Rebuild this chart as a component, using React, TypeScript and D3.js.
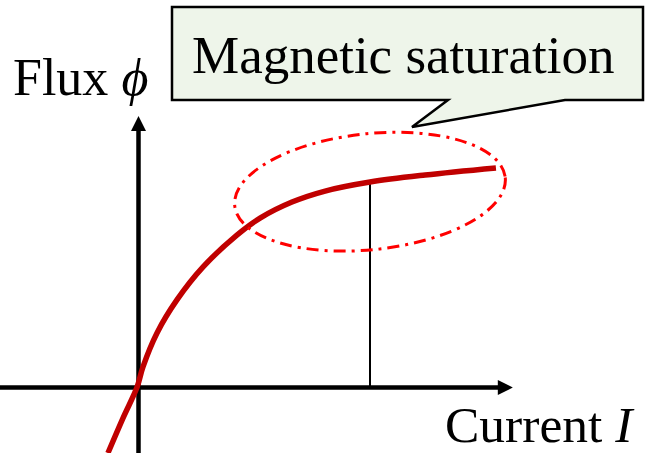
import React from "react";
import * as d3 from "d3";

// Curve data: current I (arbitrary units) vs flux phi (arbitrary units)
const currentI = [-1.32, -0.67, -0.06, 0.19, 0.8, 1.66, 2.79, 4.25, 5.25, 6.63, 8.06, 10.0, 12.38, 15.44];
const fluxPhi = [-2.98, -1.39, 0.02, 0.93, 2.48, 3.98, 5.48, 6.93, 7.7, 8.43, 8.93, 9.34, 9.66, 9.98];

// Axis extents (data units)
const xAxisExtent = [-6.0, 16.17];
const yAxisExtent = [-2.98, 12.34];

// Saturation marker & highlighted region (data units)
const markerI = [10];
const markerPhi = [9.34];
const regionCenter = [10, 8.9];

// Labels
const yLabel = ["Flux ", "ϕ"];
const xLabel = ["Current ", "I"];
const calloutText = ["Magnetic saturation"];

const W = 646;
const H = 453;
const FONT = "'Times New Roman', 'Liberation Serif', serif";

export default function App() {
  const x = d3.scaleLinear().domain([0, 10]).range([138.5, 370]);
  const y = d3.scaleLinear().domain([0, 10]).range([387.5, 167.5]);

  const pts: [number, number][] = currentI.map((v, i) => [v, fluxPhi[i]]);
  const line = d3
    .line<[number, number]>()
    .x((d) => x(d[0]))
    .y((d) => y(d[1]))
    .curve(d3.curveCatmullRom.alpha(0.5));

  const x0 = x(0);
  const y0 = y(0);
  const xEnd = x(xAxisExtent[1]);
  const yEnd = y(yAxisExtent[1]);
  const ah = 15; // arrowhead length
  const aw = 7.5; // arrowhead half width

  const cx = x(regionCenter[0]);
  const cy = y(regionCenter[1]);

  return (
    <svg
      width={W}
      height={H}
      style={{ position: "absolute", left: 0, top: 0, background: "#fff" }}
    >
      {/* x axis */}
      <line x1={x(xAxisExtent[0])} y1={y0} x2={xEnd - ah + 2} y2={y0} stroke="#000" strokeWidth={4.5} />
      <path d={`M${xEnd},${y0} L${xEnd - ah},${y0 - aw} L${xEnd - ah},${y0 + aw} Z`} fill="#000" />
      {/* y axis */}
      <line x1={x0} y1={y(yAxisExtent[0])} x2={x0} y2={yEnd + ah - 2} stroke="#000" strokeWidth={4.5} />
      <path d={`M${x0},${yEnd} L${x0 - aw},${yEnd + ah} L${x0 + aw},${yEnd + ah} Z`} fill="#000" />

      {/* saturation marker */}
      {markerI.map((m, i) => (
        <line key={i} x1={x(m)} y1={y(markerPhi[i])} x2={x(m)} y2={y0} stroke="#000" strokeWidth={2} />
      ))}

      {/* curve */}
      <path d={line(pts) || ""} fill="none" stroke="#C00000" strokeWidth={5.5} strokeLinecap="butt" />

      {/* highlighted ellipse */}
      <ellipse
        cx={cx}
        cy={cy}
        rx={136}
        ry={58}
        transform={`rotate(-6 ${cx} ${cy})`}
        fill="none"
        stroke="#FF0000"
        strokeWidth={3}
        strokeDasharray="12 6 3 6"
      />

      {/* callout */}
      <path
        d="M172,7 L643,7 L643,100 L565,100 L412,127 L448,100 L172,100 Z"
        fill="#EEF5EA"
        stroke="#000"
        strokeWidth={2.5}
        strokeLinejoin="miter"
      />
      <text x={192} y={73} fontFamily={FONT} fontSize={53} fill="#000">
        {calloutText[0]}
      </text>

      {/* axis labels */}
      <text x={13} y={95} fontFamily={FONT} fontSize={52} fill="#000">
        {yLabel[0]}
        <tspan fontStyle="italic">{yLabel[1]}</tspan>
      </text>
      <text x={445} y={442} fontFamily={FONT} fontSize={51.5} fill="#000">
        {xLabel[0]}
        <tspan fontStyle="italic">{xLabel[1]}</tspan>
      </text>
    </svg>
  );
}
